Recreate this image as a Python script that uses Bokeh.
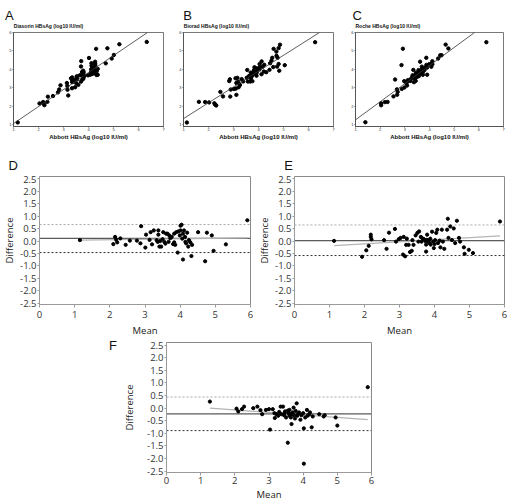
import numpy as np
from bokeh.plotting import figure
from bokeh.layouts import column, row
from bokeh.models import Label, Slope, Span, FixedTicker, Div, Spacer
from bokeh.embed import file_html
from bokeh.resources import INLINE

# ---------------- Bland-Altman data (difference = Abbott - comparator) ----------------
d_mean = [1.15, 2.10, 2.15, 2.18, 2.21, 2.30, 2.45, 2.57, 2.77, 2.87, 2.89, 3.01, 3.03, 3.13,
          3.16, 3.20, 3.25, 3.33, 3.36, 3.38, 3.38, 3.41, 3.43, 3.46, 3.50, 3.52, 3.55, 3.58,
          3.60, 3.64, 3.67, 3.69, 3.72, 3.76, 3.80, 3.83, 3.83, 3.86, 3.89, 3.93, 3.95, 3.99,
          4.01, 4.01, 4.04, 4.06, 4.08, 4.08, 4.11, 4.14, 4.15, 4.17, 4.20, 4.23, 4.25, 4.29,
          4.32, 4.34, 4.51, 4.71, 4.76, 4.90, 4.95, 5.30, 5.91]
d_diff = [0.04, -0.12, 0.17, 0.06, -0.05, 0.11, -0.15, 0.02, 0.02, -0.09, 0.60, -0.26, 0.26, 0.05,
          0.36, -0.13, 0.43, 0.04, -0.03, 0.43, 0.26, -0.22, 0.00, -0.22, 0.08, 0.36, -0.03, -0.10,
          0.30, 0.30, -0.03, 0.23, 0.12, 0.17, -0.12, -0.05, 0.30, -0.15, 0.36, -0.46, 0.39, 0.23,
          0.62, 0.43, 0.66, 0.10, 0.30, -0.74, 0.43, 0.17, -0.03, -0.09, 0.34, -0.22, 0.04, -0.05,
          -0.60, -0.15, 0.36, -0.81, 0.34, 0.23, -0.39, -0.13, 0.84]

e_mean = [1.13, 1.93, 2.05, 2.12, 2.18, 2.18, 2.20, 2.56, 2.63, 2.70, 2.87, 2.90, 2.98, 3.03,
          3.10, 3.12, 3.16, 3.19, 3.21, 3.26, 3.30, 3.35, 3.37, 3.40, 3.46, 3.51, 3.54, 3.56,
          3.61, 3.63, 3.65, 3.70, 3.74, 3.76, 3.76, 3.78, 3.79, 3.82, 3.84, 3.86, 3.88, 3.89,
          3.93, 3.96, 3.98, 4.00, 4.02, 4.05, 4.08, 4.10, 4.15, 4.17, 4.21, 4.24, 4.28, 4.36,
          4.38, 4.40, 4.45, 4.50, 4.55, 4.59, 4.64, 4.70, 4.73, 4.84, 4.86, 4.98, 5.10, 5.87]
e_diff = [0.01, -0.63, -0.37, -0.19, 0.26, 0.17, 0.07, 0.04, -0.31, 0.34, 0.49, -0.02, 0.08, 0.13,
          -0.54, 0.17, -0.61, -0.15, 0.10, -0.15, -0.44, -0.39, 0.04, -0.15, 0.23, 0.33, -0.02, 0.39,
          0.17, -0.02, 0.12, 0.08, 0.00, -0.42, -0.14, 0.05, 0.26, -0.02, 0.04, -0.08, 0.10, -0.14,
          0.38, -0.02, -0.28, -0.12, 0.04, 0.33, 0.46, -0.08, 0.02, -0.25, 0.46, -0.02, -0.31, 0.46,
          0.90, 0.13, 0.59, 0.04, 0.51, -0.08, 0.82, 0.13, -0.02, -0.25, -0.51, -0.35, -0.48, 0.79]

f_mean = [1.27, 2.05, 2.10, 2.21, 2.27, 2.54, 2.66, 2.75, 2.80, 2.91, 3.00, 3.03, 3.11, 3.16,
          3.17, 3.22, 3.27, 3.30, 3.34, 3.36, 3.41, 3.44, 3.45, 3.47, 3.50, 3.55, 3.55, 3.57,
          3.60, 3.60, 3.62, 3.64, 3.66, 3.69, 3.70, 3.72, 3.74, 3.76, 3.78, 3.81, 3.83, 3.85,
          3.88, 3.92, 3.95, 4.00, 4.02, 4.02, 4.06, 4.11, 4.13, 4.18, 4.20, 4.25, 4.28, 4.47,
          4.60, 4.63, 4.95, 5.00, 5.89]
f_diff = [0.26, -0.02, -0.13, -0.04, 0.06, 0.00, 0.06, -0.08, -0.24, -0.07, -0.04, -0.85, -0.04, -0.20,
          -0.39, -0.24, -0.30, -0.15, 0.06, -0.24, 0.06, -0.28, -0.20, -0.13, -0.37, -1.37, -0.10, -0.20,
          -0.07, -0.30, -0.24, -0.37, -0.63, -0.17, -0.25, 0.02, -0.28, -0.41, -0.11, 0.19, -0.30, -0.22,
          -0.17, -0.46, -0.28, -0.20, -0.80, -2.20, -0.37, -0.07, -0.30, -0.24, -0.17, -0.76, -0.33, -0.24,
          -0.33, -0.28, -0.37, -0.69, 0.83]

# bias / limits of agreement / regression of difference on mean
d_bias, d_upper, d_lower, d_slope, d_icpt = 0.11, 0.67, -0.46, 0.019, 0.018
e_bias, e_upper, e_lower, e_slope, e_icpt = 0.02, 0.65, -0.58, 0.082, -0.273
f_bias, f_upper, f_lower, f_slope, f_icpt = -0.23, 0.44, -0.89, -0.099, 0.127

# fitted lines of the method-comparison scatter plots
a_slope, a_icpt = 0.92, 0.15
b_slope, b_icpt = 0.857, 0.48
c_slope, c_icpt = 0.98, 0.29

panel_letters = ["A", "B", "C", "D", "E", "F"]
scatter_titles = ["Diasorin HBsAg (log10 IU/ml)", "Biorad HBsAg (log10 IU/ml)", "Roche HBsAg (log10 IU/ml)"]
scatter_xlabel = "Abbott HBsAg (log10 IU/ml)"
scatter_xticks = [1, 2, 3, 4, 5, 6, 7]
scatter_yticks = [1, 2, 3, 4, 5, 6]
ba_xticks = [0, 1, 2, 3, 4, 5, 6]
ba_yticks = [2.5, 2.0, 1.5, 1.0, 0.5, 0.0, -0.5, -1.0, -1.5, -2.0, -2.5]
ba_ytick_labels = ["2.5", "2.0", "1.5", "1.0", "0.5", "0.0", "-0.5", "-1.0", "-1.5", "-2.0", "-2.5"]
ba_xlabel = "Mean"
ba_ylabel = "Difference"

LETTER_FONT = "Liberation Sans"
BA_FONT = "Open Sans"


def blank(width, height):
    p = figure(width=width, height=height, x_range=(0, 1), y_range=(0, 1),
               output_backend="svg", toolbar_location=None,
               x_axis_location=None, y_axis_location=None,
               min_border_left=0, min_border_right=0, min_border_top=0, min_border_bottom=0)
    p.grid.visible = False
    p.outline_line_color = None
    return p


def put_letter(p, txt, x, y):
    p.add_layout(Label(x=x, y=y, x_units="screen", y_units="screen", text=txt,
                       text_align="center", text_baseline="middle",
                       text_font=LETTER_FONT, text_font_size="13px", text_color="#111111"))


def put_title(p, txt, x, y):
    p.add_layout(Label(x=x, y=y, x_units="screen", y_units="screen", text=txt,
                       text_align="left", text_baseline="middle",
                       text_font="Liberation Sans", text_font_size="5px",
                       text_font_style="bold", text_color="#111111"))


def scatter_panel(mean, diff, slope, icpt, width, left, right):
    m = np.array(mean)
    d = np.array(diff)
    abbott = m + d / 2.0
    other = m - d / 2.0
    p = figure(width=width, height=113, x_range=(1, 7), y_range=(0.91, 6.0),
               output_backend="svg", toolbar_location=None,
               min_border_left=left, min_border_right=right, min_border_top=3, min_border_bottom=15)
    p.grid.visible = False
    p.outline_line_color = "#555555"
    p.outline_line_width = 0.8
    p.xaxis.ticker = FixedTicker(ticks=scatter_xticks)
    p.yaxis.ticker = FixedTicker(ticks=scatter_yticks)
    for ax in (p.xaxis, p.yaxis):
        ax.major_label_text_font = "Liberation Sans"
        ax.major_label_text_font_size = "4px"
        ax.major_label_text_color = "#333333"
        ax.major_tick_out = 1
        ax.major_tick_in = 0
        ax.minor_tick_line_color = None
        ax.major_label_standoff = 1
        ax.axis_line_color = "#555555"
        ax.major_tick_line_color = "#555555"
    p.xaxis.major_label_standoff = 0
    p.xaxis.axis_label = scatter_xlabel
    p.xaxis.axis_label_text_font = "Liberation Sans"
    p.xaxis.axis_label_text_font_size = "6px"
    p.xaxis.axis_label_text_font_style = "bold"
    p.xaxis.axis_label_text_color = "#111111"
    p.xaxis.axis_label_standoff = 0
    p.add_layout(Slope(gradient=slope, y_intercept=icpt, line_color="#333333", line_width=0.8))
    p.scatter(abbott, other, size=3.4, color="black")
    return p


def ba_panel(mean, diff, bias, upper, lower, slope, icpt, width, height,
             left, right, top, bottom, ylab_standoff, xtick_standoff, xlab_standoff):
    p = figure(width=width, height=height, x_range=(0, 6), y_range=(-2.55, 2.6),
               output_backend="svg", toolbar_location=None,
               min_border_left=left, min_border_right=right, min_border_top=top, min_border_bottom=bottom)
    p.grid.visible = False
    p.outline_line_color = "#8a8a8a"
    p.outline_line_width = 1
    p.xaxis.ticker = FixedTicker(ticks=ba_xticks)
    p.yaxis.ticker = FixedTicker(ticks=ba_yticks)
    p.yaxis.major_label_overrides = dict(zip(ba_yticks, ba_ytick_labels))
    for ax in (p.xaxis, p.yaxis):
        ax.major_label_text_font = BA_FONT
        ax.major_label_text_font_size = "9.5px"
        ax.major_label_text_color = "#333333"
        ax.major_tick_in = 0
        ax.minor_tick_line_color = None
        ax.axis_line_color = "#9a9a9a"
        ax.major_tick_line_color = "#9a9a9a"
        ax.axis_label_text_font = BA_FONT
        ax.axis_label_text_font_size = "9.5px"
        ax.axis_label_text_font_style = "normal"
        ax.axis_label_text_color = "#222222"
    p.yaxis.major_tick_out = 2
    p.yaxis.major_label_standoff = 1
    p.yaxis.axis_label = ba_ylabel
    p.yaxis.axis_label_standoff = ylab_standoff
    p.xaxis.major_tick_out = 3
    p.xaxis.major_label_standoff = xtick_standoff
    p.xaxis.axis_label = ba_xlabel
    p.xaxis.axis_label_standoff = xlab_standoff

    p.add_layout(Span(location=bias, dimension="width", line_color="#5a5a5a", line_width=1.2, level="underlay"))
    p.add_layout(Span(location=upper, dimension="width", line_color="#a8a8a8", line_width=1,
                      line_dash="2 2", level="underlay"))
    p.add_layout(Span(location=lower, dimension="width", line_color="#333333", line_width=1,
                      line_dash="2 2", level="underlay"))
    xs = np.array([min(mean), max(mean)])
    p.line(xs, icpt + slope * xs, line_color="#b4b4b4", line_width=1.2)
    p.scatter(mean, diff, size=3.2, color="black")
    return p


# header strip above the three scatter plots (panel letters + y-axis titles)
head1 = blank(509, 29)
put_letter(head1, panel_letters[0], 8.8, 14.3)
put_letter(head1, panel_letters[1], 187, 14.3)
put_letter(head1, panel_letters[2], 356.7, 14.3)
put_title(head1, scatter_titles[0], 13.3, 4)
put_title(head1, scatter_titles[1], 183.3, 4)
put_title(head1, scatter_titles[2], 355, 4)

pa = scatter_panel(d_mean, d_diff, a_slope, a_icpt, 170, 13, 7)
pb = scatter_panel(e_mean, e_diff, b_slope, b_icpt, 170, 13, 7)
pc = scatter_panel(f_mean, f_diff, c_slope, c_icpt, 169, 15, 6)

# header strip with letters D and E
head2 = blank(509, 30)
put_letter(head2, panel_letters[3], 12.7, 7)
put_letter(head2, panel_letters[4], 288, 7)

pd = ba_panel(d_mean, d_diff, d_bias, d_upper, d_lower, d_slope, d_icpt, 255, 167,
              35, 5, 4, 32, 1, 3, 3)
pe = ba_panel(e_mean, e_diff, e_bias, e_upper, e_lower, e_slope, e_icpt, 254, 167,
              34, 5, 4, 32, 1, 3, 3)

# left strip carrying the letter F (plain text block, not a plot, so it is not frame-aligned)
side3 = Div(text=panel_letters[5], width=117, height=164,
            styles={"text-align": "right", "font-family": "Liberation Sans", "font-size": "13px",
                    "line-height": "13px", "color": "#111111", "margin": "0", "padding": "0"})
gap3 = Spacer(width=3, height=164)
pf = ba_panel(f_mean, f_diff, f_bias, f_upper, f_lower, f_slope, f_icpt, 256, 164,
              37, 5, 3, 30, 8, 1, 1)

layout = column(head1, row(pa, pb, pc), head2, row(pd, pe), row(side3, gap3, pf))

open("out.html", "w").write(file_html(layout, INLINE))
